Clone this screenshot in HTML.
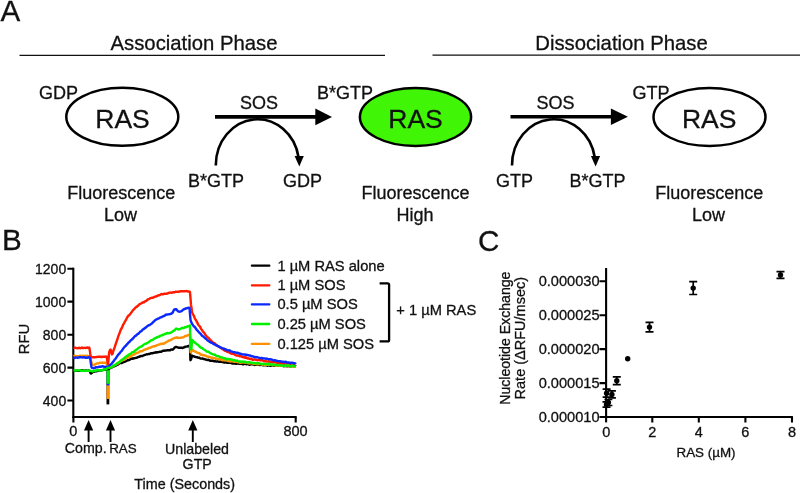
<!DOCTYPE html>
<html><head><meta charset="utf-8"><title>Figure</title>
<style>html,body{margin:0;padding:0;background:#fff}body{width:800px;height:493px;overflow:hidden}svg{display:block}text{stroke:#111;stroke-width:.3px}</style>
</head><body>
<svg width="800" height="493" viewBox="0 0 800 493">
<rect width="800" height="493" fill="#fff"/>
<g font-family="'Liberation Sans', sans-serif" fill="#111">
<g font-size="29.6">
<text x="0.6" y="20.6">A</text>
<text x="2.1" y="250.3">B</text>
<text x="478.1" y="250.6">C</text>
</g>
<g font-size="20.3" text-anchor="middle">
<text x="194" y="50">Association Phase</text>
<text x="621.5" y="50">Dissociation Phase</text>
</g>
<path d="M19.5,55.4H385 M432.5,55.2H800" stroke="#111" stroke-width="1.3" fill="none"/>
<g stroke="#000" stroke-width="2.5">
<ellipse cx="122.3" cy="116.8" rx="56" ry="29" fill="#fff"/>
<ellipse cx="415.5" cy="117" rx="55.6" ry="29" fill="#40f505"/>
<ellipse cx="709.5" cy="117" rx="56" ry="29" fill="#fff"/>
</g>
<g font-size="26.5" text-anchor="middle">
<text x="122.5" y="128">RAS</text>
<text x="415.5" y="128">RAS</text>
<text x="709.2" y="128">RAS</text>
</g>
<g font-size="18">
<text x="38.9" y="98.5">GDP</text>
<text x="317" y="99">B*GTP</text>
<text x="632.5" y="98.6">GTP</text>
<text x="240" y="109.3">SOS</text>
<text x="536.5" y="109.3">SOS</text>
<text x="188" y="187.2">B*GTP</text>
<text x="283" y="187.2">GDP</text>
<text x="496" y="187.4">GTP</text>
<text x="569.5" y="187.4">B*GTP</text>
<g text-anchor="middle">
<text x="121.2" y="199">Fluorescence</text><text x="120.5" y="220.5">Low</text>
<text x="415.5" y="199">Fluorescence</text><text x="415" y="220.5">High</text>
<text x="709.2" y="199">Fluorescence</text><text x="708.5" y="220.5">Low</text>
</g></g>
<g stroke="#000" fill="none">
<path d="M215,116.9H317" stroke-width="3.6"/>
<path d="M510.5,116.8H612" stroke-width="3.6"/>
<path d="M215.8,165.4 A41.7,46 0 0 1 298.6,157.5" stroke-width="2.6"/>
<path d="M512,165.4 A41.7,46 0 0 1 594.8,157.5" stroke-width="2.6"/>
</g>
<g fill="#000">
<path d="M315.3,108.5 L332,116.9 L315.3,125.3Z"/>
<path d="M610.9,108.6 L627.9,116.8 L610.9,125Z"/>
<path d="M294.6,156 L303.8,156 L299.3,166.6Z"/>
<path d="M590.9,156 L600.1,156 L595.6,166.6Z"/>
</g>
<g stroke="#000" stroke-width="2.1" fill="none">
<path d="M73.3,267.7V418"/>
<path d="M72.4,417H296.7"/>
<path d="M67.4,268.7H73.4 M67.4,301.6H73.4 M67.4,334.7H73.4 M67.4,367.6H73.4 M67.4,400.5H73.4"/>
<path d="M73.4,417V422.5 M295.7,417V422.5"/>
</g>
<g font-size="14.5">
<g text-anchor="end">
<text x="66.2" y="273.7" font-size="14">1200</text>
<text x="66.2" y="306.6" font-size="14">1000</text>
<text x="66.2" y="339.7" font-size="14">800</text>
<text x="66.2" y="372.6" font-size="14">600</text>
<text x="66.2" y="405.5" font-size="14">400</text>
</g>
<g text-anchor="middle">
<text x="73.3" y="436.3">0</text>
<text x="295.6" y="436.3">800</text>
<text x="85.7" y="452.9" font-size="14.2">Comp.</text>
<text x="122.9" y="452.9" font-size="13.4">RAS</text>
<text x="197" y="453.6" font-size="14.2">Unlabeled</text>
<text x="197.2" y="469.3" font-size="14.2">GTP</text>
<text x="184.7" y="489.2" font-size="14.35">Time (Seconds)</text>
<text transform="translate(29.2,339) rotate(-90)" font-size="14.8">RFU</text>
</g>
<text x="277.4" y="270.7" font-size="14.7">1 µM RAS alone</text>
<text x="277.4" y="290.4" font-size="14.7">1 µM SOS</text>
<text x="277.4" y="309.4" font-size="14.7">0.5 µM SOS</text>
<text x="277.4" y="329.0" font-size="14.7">0.25 µM SOS</text>
<text x="277.4" y="348.9" font-size="14.7">0.125 µM SOS</text>
<text x="396.3" y="315" font-size="14.7">+ 1 µM RAS</text>
</g>
<path d="M251.9,265.7H269.3" stroke="#000000" stroke-width="2.3" stroke-linecap="round"/>
<path d="M251.9,285.4H269.3" stroke="#ff1a00" stroke-width="2.3" stroke-linecap="round"/>
<path d="M251.9,304.4H269.3" stroke="#0a28ff" stroke-width="2.3" stroke-linecap="round"/>
<path d="M251.9,324H269.3" stroke="#00f000" stroke-width="2.3" stroke-linecap="round"/>
<path d="M251.9,343.9H269.3" stroke="#ff9000" stroke-width="2.3" stroke-linecap="round"/>
<path d="M379.6,283.3H387.6Q389.1,283.3 389.1,284.8V339.9Q389.1,341.4 387.6,341.4H379.6" stroke="#000" stroke-width="2.3" fill="none"/>
<g fill="none" stroke-width="2.8">
<path stroke="#000000" d="M107.9,368V404.4"/>
<path stroke="#ff9000" d="M107.9,364V399"/>
<path stroke="#0a28ff" d="M107.9,366V385.4"/>
<path stroke="#00f000" d="M107.9,367V383.8"/>
</g>
<g fill="none" stroke-width="2.4" stroke-linejoin="round" stroke-linecap="butt">
<path stroke="#000000" d="M73.5,370.7 L74.0,370.6 L74.5,370.5 L75.0,370.6 L75.5,370.8 L76.0,370.9 L76.5,370.8 L77.0,370.7 L77.5,370.8 L78.0,370.9 L78.5,370.7 L79.0,370.7 L79.5,370.8 L80.0,370.7 L80.5,370.7 L81.0,370.4 L81.5,370.4 L82.0,370.2 L82.5,370.4 L83.0,370.4 L83.5,370.7 L84.0,370.7 L84.5,370.8 L85.0,370.5 L85.5,370.4 L86.0,370.4 L86.5,370.7 L87.0,370.6 L87.5,370.6 L88.0,370.4 L88.5,370.5 L89.0,370.7 L89.5,370.7 L90.0,371.7 L90.5,373.1 L90.8,373.5 L91.0,373.5 L91.5,373.1 L92.0,372.8 L92.5,372.2 L93.0,371.9 L93.5,371.8 L94.0,371.7 L94.5,371.6 L95.0,371.3 L95.5,371.3 L96.0,371.4 L96.5,371.3 L97.0,371.2 L97.5,370.9 L98.0,370.7 L98.5,370.8 L99.0,370.8 L99.5,370.6 L100.0,370.6 L100.5,370.6 L101.0,370.5 L101.5,370.4 L102.0,370.1 L102.5,370.1 L103.0,369.9 L103.5,369.8 L104.0,369.6 L104.5,369.8 L105.0,369.9 L105.5,369.7 L106.0,369.4 L106.5,369.2 L107.0,369.0 L107.5,368.9 L107.9,368.7 L108.0,369.1 L108.5,369.0 L109.0,368.8 L109.5,368.4 L110.0,368.1 L110.5,368.1 L110.6,368.1 L111.0,367.9 L111.5,367.5 L112.0,367.3 L112.5,367.1 L113.0,366.7 L113.5,366.4 L114.0,366.1 L114.5,366.1 L114.6,366.2 L115.0,366.0 L115.5,365.7 L116.0,365.4 L116.5,365.3 L117.0,364.9 L117.5,364.8 L118.0,364.3 L118.5,364.1 L119.0,363.6 L119.5,363.3 L120.0,363.0 L120.5,362.9 L121.0,363.0 L121.5,363.1 L122.0,362.9 L122.5,362.6 L123.0,362.2 L123.5,362.1 L124.0,362.0 L124.5,361.7 L125.0,361.6 L125.1,361.6 L125.5,361.4 L126.0,361.1 L126.5,360.8 L127.0,360.6 L127.5,360.4 L128.0,360.1 L128.5,360.2 L129.0,360.0 L129.5,359.9 L130.0,359.5 L130.2,359.4 L130.5,359.1 L131.0,358.9 L131.5,358.8 L132.0,358.6 L132.5,358.7 L133.0,358.3 L133.5,358.5 L134.0,358.2 L134.5,358.3 L135.0,358.1 L135.3,357.9 L135.5,357.9 L136.0,357.9 L136.5,357.9 L137.0,357.6 L137.5,357.3 L138.0,357.0 L138.5,357.0 L139.0,356.8 L139.5,356.7 L140.0,356.3 L140.5,356.2 L141.0,355.9 L141.5,356.0 L142.0,355.9 L142.5,356.0 L143.0,355.7 L143.5,355.5 L144.0,355.2 L144.5,355.0 L145.0,354.9 L145.4,354.8 L145.5,354.8 L146.0,354.5 L146.5,354.3 L147.0,354.4 L147.5,354.4 L148.0,354.2 L148.5,354.0 L149.0,354.1 L149.5,353.9 L150.0,353.8 L150.5,353.4 L151.0,353.3 L151.5,353.3 L152.0,353.2 L152.5,353.3 L153.0,353.0 L153.5,353.0 L154.0,352.8 L154.5,352.8 L155.0,352.5 L155.5,352.3 L155.6,352.5 L156.0,352.5 L156.5,352.6 L157.0,352.3 L157.5,352.2 L158.0,352.1 L158.5,352.1 L159.0,352.0 L159.5,351.9 L160.0,351.7 L160.5,351.8 L161.0,351.8 L161.5,351.6 L162.0,351.3 L162.5,350.9 L163.0,350.8 L163.5,350.8 L164.0,350.8 L164.5,350.6 L165.0,350.5 L165.5,350.6 L166.0,350.6 L166.5,350.4 L167.0,350.4 L167.5,350.1 L168.0,350.2 L168.5,350.1 L169.0,350.3 L169.5,350.3 L170.0,350.4 L170.1,350.2 L170.5,349.7 L171.0,349.6 L171.5,349.5 L172.0,349.7 L172.5,349.6 L173.0,349.5 L173.2,349.2 L173.5,348.9 L174.0,348.4 L174.5,347.8 L175.0,347.2 L175.2,347.1 L175.5,346.9 L176.0,346.9 L176.5,347.0 L177.0,347.1 L177.5,347.3 L178.0,347.5 L178.5,347.8 L179.0,347.7 L179.5,347.7 L180.0,347.6 L180.3,347.6 L180.5,347.7 L181.0,347.7 L181.5,347.8 L182.0,347.7 L182.5,348.0 L183.0,347.7 L183.5,347.6 L184.0,347.2 L184.5,347.3 L185.0,346.8 L185.5,346.7 L186.0,346.6 L186.5,346.6 L187.0,346.6 L187.5,346.3 L188.0,346.4 L188.4,346.3 L188.5,346.1 L189.0,345.8 L189.5,345.5 L189.9,345.3 L190.0,346.8 L190.4,359.8 L190.5,360.2 L191.0,359.3 L191.5,357.6 L192.0,355.6 L192.5,355.9 L193.0,356.2 L193.5,356.2 L194.0,356.4 L194.5,356.6 L195.0,356.9 L195.5,357.0 L196.0,357.0 L196.5,357.1 L197.0,357.2 L197.5,357.6 L198.0,357.5 L198.5,357.7 L199.0,357.7 L199.5,357.8 L200.0,358.2 L200.5,358.5 L200.6,358.6 L201.0,358.6 L201.5,358.6 L202.0,358.5 L202.5,358.5 L203.0,358.6 L203.5,359.0 L204.0,359.0 L204.5,359.1 L205.0,359.2 L205.5,359.5 L206.0,359.7 L206.5,359.8 L207.0,360.0 L207.5,360.0 L208.0,360.0 L208.5,359.7 L209.0,360.1 L209.5,360.3 L210.0,360.7 L210.5,360.7 L211.0,360.7 L211.5,360.7 L212.0,360.7 L212.5,360.7 L213.0,360.8 L213.5,361.1 L214.0,361.2 L214.5,361.3 L215.0,361.1 L215.1,361.0 L215.5,361.3 L216.0,361.5 L216.5,361.6 L217.0,361.5 L217.5,361.3 L218.0,361.4 L218.5,361.6 L219.0,361.8 L219.5,361.8 L220.0,361.7 L220.5,361.9 L221.0,361.8 L221.5,361.8 L222.0,361.8 L222.5,362.1 L223.0,362.1 L223.5,362.3 L224.0,362.5 L224.5,362.6 L225.0,362.5 L225.3,362.4 L225.5,362.4 L226.0,362.4 L226.5,362.5 L227.0,362.8 L227.5,362.9 L228.0,362.9 L228.5,362.6 L229.0,362.7 L229.5,362.6 L230.0,362.7 L230.5,362.8 L231.0,362.9 L231.5,363.2 L232.0,363.3 L232.5,363.5 L233.0,363.5 L233.5,363.6 L234.0,363.6 L234.5,363.5 L235.0,363.1 L235.4,363.2 L235.5,363.4 L236.0,363.7 L236.5,363.7 L237.0,363.4 L237.5,363.3 L238.0,363.5 L238.5,363.6 L239.0,363.7 L239.5,363.8 L240.0,363.8 L240.5,363.8 L241.0,363.8 L241.5,363.9 L242.0,364.0 L242.5,364.2 L243.0,364.3 L243.5,364.3 L244.0,363.9 L244.5,363.9 L245.0,363.7 L245.5,363.8 L245.6,363.8 L246.0,364.2 L246.5,364.4 L247.0,364.1 L247.5,364.0 L248.0,364.0 L248.5,364.3 L249.0,364.6 L249.5,364.7 L250.0,364.6 L250.5,364.2 L251.0,364.2 L251.5,364.3 L252.0,364.4 L252.5,364.4 L253.0,364.3 L253.5,364.6 L254.0,364.8 L254.5,365.0 L255.0,364.9 L255.5,364.9 L256.0,364.7 L256.5,364.8 L257.0,364.7 L257.5,364.6 L258.0,364.5 L258.5,364.6 L259.0,364.8 L259.5,365.0 L260.0,365.1 L260.5,364.9 L261.0,364.8 L261.5,364.8 L262.0,365.0 L262.5,365.1 L263.0,365.2 L263.5,365.2 L264.0,365.2 L264.5,364.9 L265.0,365.0 L265.5,365.3 L266.0,365.2 L266.5,365.3 L267.0,365.3 L267.5,365.7 L268.0,365.5 L268.5,365.4 L269.0,365.2 L269.5,365.5 L270.0,365.6 L270.5,365.9 L271.0,365.6 L271.5,365.6 L272.0,365.3 L272.5,365.3 L273.0,365.4 L273.5,365.5 L274.0,365.7 L274.5,365.6 L275.0,365.7 L275.5,365.5 L276.0,365.5 L276.5,365.6 L277.0,365.6 L277.5,365.6 L278.0,365.6 L278.5,365.5 L279.0,365.5 L279.5,365.6 L280.0,365.8 L280.5,365.8 L281.0,365.8 L281.5,365.7 L282.0,365.8 L282.5,365.9 L283.0,365.9 L283.5,366.2 L284.0,366.0 L284.5,366.2 L285.0,366.0 L285.5,366.0 L286.0,366.1 L286.5,366.1 L287.0,366.3 L287.5,366.2 L288.0,366.1 L288.5,366.1 L289.0,366.1 L289.5,366.4 L290.0,366.3 L290.5,366.3 L291.0,366.0 L291.5,366.2 L292.0,366.1 L292.5,366.1 L293.0,366.0 L293.5,366.3 L294.0,366.4 L294.5,366.3 L295.0,366.1 L295.5,366.1 L295.6,366.3"/>
<path stroke="#ff9000" d="M73.5,356.1 L74.0,355.9 L74.5,355.9 L75.0,355.6 L75.5,356.0 L76.0,356.1 L76.5,356.3 L77.0,356.1 L77.5,356.1 L78.0,356.1 L78.5,356.3 L79.0,356.2 L79.5,356.0 L80.0,355.7 L80.5,355.6 L81.0,355.9 L81.5,356.1 L82.0,356.2 L82.5,355.9 L83.0,355.8 L83.5,356.1 L84.0,355.9 L84.5,356.0 L85.0,355.7 L85.5,356.2 L86.0,356.0 L86.5,356.1 L87.0,355.8 L87.5,355.8 L88.0,356.0 L88.5,356.2 L89.0,356.3 L89.5,356.0 L89.8,355.7 L90.0,355.9 L90.5,357.5 L91.0,360.2 L91.5,362.7 L92.0,364.4 L92.3,364.7 L92.5,364.8 L93.0,365.0 L93.5,365.1 L94.0,365.0 L94.5,364.7 L95.0,364.3 L95.5,364.0 L96.0,363.9 L96.5,363.7 L97.0,363.4 L97.5,363.4 L98.0,363.3 L98.5,363.3 L99.0,363.1 L99.5,362.9 L100.0,362.7 L100.4,362.7 L100.5,362.7 L101.0,362.8 L101.5,362.9 L102.0,362.8 L102.5,362.8 L103.0,362.6 L103.5,362.7 L104.0,362.7 L104.5,362.6 L105.0,362.7 L105.5,362.8 L106.0,363.0 L106.5,363.4 L107.0,364.3 L107.5,365.3 L107.9,365.8 L108.0,365.9 L108.5,366.4 L109.0,366.6 L109.5,366.9 L110.0,367.1 L110.5,367.3 L110.6,367.2 L111.0,367.3 L111.5,366.9 L112.0,366.8 L112.5,366.5 L113.0,366.4 L113.5,366.0 L114.0,365.6 L114.5,365.2 L114.6,365.2 L115.0,365.1 L115.5,364.8 L116.0,364.3 L116.5,364.0 L117.0,363.8 L117.5,363.8 L118.0,363.5 L118.5,362.9 L119.0,362.6 L119.5,362.2 L120.0,361.8 L120.5,361.4 L121.0,360.9 L121.5,360.8 L122.0,360.3 L122.5,360.3 L123.0,360.1 L123.5,359.9 L124.0,359.6 L124.5,359.6 L125.0,359.2 L125.1,358.9 L125.5,358.4 L126.0,358.1 L126.5,357.9 L127.0,357.9 L127.5,357.7 L128.0,357.6 L128.5,357.2 L129.0,357.0 L129.5,356.7 L130.0,356.6 L130.2,356.7 L130.5,356.5 L131.0,356.1 L131.5,355.8 L132.0,355.4 L132.5,355.0 L133.0,354.8 L133.5,354.6 L134.0,354.6 L134.5,354.1 L135.0,353.8 L135.3,353.6 L135.5,353.6 L136.0,353.1 L136.5,352.9 L137.0,352.9 L137.5,353.0 L138.0,352.7 L138.5,352.3 L139.0,352.1 L139.5,351.7 L140.0,351.4 L140.5,351.2 L141.0,351.3 L141.5,351.3 L142.0,351.2 L142.5,350.9 L143.0,350.5 L143.5,350.2 L144.0,349.9 L144.5,349.7 L145.0,349.5 L145.4,349.6 L145.5,349.6 L146.0,349.3 L146.5,348.9 L147.0,348.9 L147.5,348.7 L148.0,348.7 L148.5,348.2 L149.0,348.0 L149.5,347.7 L150.0,347.7 L150.5,347.7 L151.0,347.4 L151.5,347.0 L152.0,346.7 L152.5,346.7 L153.0,346.5 L153.5,346.4 L154.0,346.3 L154.5,346.4 L155.0,346.1 L155.5,346.0 L155.6,345.8 L156.0,345.9 L156.5,345.5 L157.0,345.2 L157.5,345.0 L158.0,344.8 L158.5,344.8 L159.0,344.7 L159.5,344.5 L160.0,344.2 L160.5,344.0 L161.0,344.1 L161.5,343.8 L162.0,343.7 L162.5,343.5 L163.0,343.7 L163.5,343.9 L164.0,343.6 L164.5,343.2 L165.0,342.9 L165.5,342.7 L166.0,342.3 L166.5,341.9 L167.0,341.8 L167.5,341.5 L168.0,341.1 L168.5,340.6 L169.0,340.5 L169.5,340.4 L170.0,340.3 L170.1,340.2 L170.5,340.2 L171.0,339.9 L171.5,339.7 L172.0,339.2 L172.5,339.0 L173.0,338.5 L173.5,338.5 L174.0,338.3 L174.5,338.1 L175.0,337.8 L175.5,337.6 L176.0,337.7 L176.2,337.6 L176.5,337.5 L177.0,337.3 L177.5,337.8 L178.0,338.0 L178.5,338.0 L179.0,337.8 L179.5,337.9 L180.0,337.9 L180.3,337.8 L180.5,337.7 L181.0,337.7 L181.5,337.7 L182.0,337.4 L182.5,337.4 L183.0,337.4 L183.5,337.3 L184.0,337.0 L184.5,336.4 L185.0,336.2 L185.5,335.9 L186.0,336.0 L186.5,335.8 L187.0,335.6 L187.5,335.2 L188.0,335.1 L188.4,335.0 L188.5,335.1 L189.0,334.9 L189.5,334.9 L189.9,334.6 L190.0,335.8 L190.5,351.0 L190.6,352.3 L191.0,352.2 L191.5,351.6 L192.0,350.1 L192.5,350.1 L193.0,350.2 L193.5,350.6 L194.0,351.0 L194.5,351.1 L195.0,351.5 L195.5,351.5 L196.0,352.0 L196.5,352.2 L197.0,352.6 L197.5,352.8 L198.0,352.9 L198.5,353.1 L199.0,353.1 L199.5,353.4 L200.0,353.9 L200.5,354.5 L200.6,354.7 L201.0,354.7 L201.5,354.6 L202.0,354.8 L202.5,354.9 L203.0,355.2 L203.5,355.1 L204.0,355.3 L204.5,355.4 L205.0,355.6 L205.5,355.7 L206.0,355.8 L206.5,356.3 L207.0,356.5 L207.5,356.7 L208.0,356.6 L208.5,356.9 L209.0,356.9 L209.5,357.0 L210.0,357.1 L210.5,357.4 L211.0,357.6 L211.5,357.8 L212.0,357.8 L212.5,358.0 L213.0,357.8 L213.5,358.2 L214.0,358.1 L214.5,358.2 L215.0,358.1 L215.1,358.4 L215.5,358.6 L216.0,359.0 L216.5,358.8 L217.0,358.9 L217.5,358.9 L218.0,359.1 L218.5,359.1 L219.0,359.2 L219.5,359.1 L220.0,359.1 L220.5,359.1 L221.0,359.4 L221.5,359.6 L222.0,359.9 L222.5,360.2 L223.0,360.2 L223.5,360.1 L224.0,359.9 L224.5,359.9 L225.0,360.0 L225.3,360.2 L225.5,360.3 L226.0,360.3 L226.5,360.4 L227.0,360.5 L227.5,360.9 L228.0,360.9 L228.5,361.1 L229.0,361.1 L229.5,361.3 L230.0,361.3 L230.5,361.5 L231.0,361.4 L231.5,361.3 L232.0,361.3 L232.5,361.3 L233.0,361.5 L233.5,361.5 L234.0,361.7 L234.5,361.8 L235.0,361.9 L235.4,361.5 L235.5,361.5 L236.0,361.7 L236.5,361.9 L237.0,362.0 L237.5,362.0 L238.0,362.2 L238.5,362.1 L239.0,362.3 L239.5,362.4 L240.0,362.8 L240.5,362.7 L241.0,362.6 L241.5,362.3 L242.0,362.5 L242.5,362.5 L243.0,362.6 L243.5,362.6 L244.0,362.6 L244.5,362.6 L245.0,362.6 L245.5,362.5 L245.6,362.5 L246.0,362.5 L246.5,362.9 L247.0,363.0 L247.5,362.9 L248.0,362.9 L248.5,363.1 L249.0,363.4 L249.5,363.5 L250.0,363.3 L250.5,363.4 L251.0,363.4 L251.5,363.4 L252.0,363.3 L252.5,363.5 L253.0,363.7 L253.5,364.0 L254.0,363.8 L254.5,364.0 L255.0,363.8 L255.5,363.9 L256.0,364.1 L256.5,364.3 L257.0,364.3 L257.5,364.0 L258.0,364.0 L258.5,364.3 L259.0,364.2 L259.5,364.0 L260.0,363.9 L260.5,364.0 L261.0,364.3 L261.5,364.5 L262.0,364.5 L262.5,364.7 L263.0,364.4 L263.5,364.5 L264.0,364.7 L264.5,365.0 L265.0,364.9 L265.5,364.7 L266.0,364.9 L266.5,364.8 L267.0,364.8 L267.5,364.7 L268.0,364.9 L268.5,364.9 L269.0,364.9 L269.5,364.8 L270.0,364.9 L270.3,364.9 L270.5,364.8 L271.0,364.8 L271.5,365.0 L272.0,365.0 L272.5,365.0 L273.0,365.0 L273.5,365.1 L274.0,365.1 L274.5,365.0 L275.0,365.3 L275.5,365.6 L276.0,365.9 L276.5,365.8 L277.0,365.7 L277.5,365.5 L278.0,365.5 L278.5,365.7 L279.0,365.5 L279.5,365.7 L280.0,365.5 L280.5,365.9 L281.0,365.8 L281.5,365.8 L282.0,365.7 L282.5,365.8 L283.0,365.9 L283.5,365.9 L284.0,365.8 L284.5,365.6 L285.0,365.7 L285.5,365.8 L286.0,366.1 L286.5,366.1 L287.0,366.1 L287.5,366.1 L288.0,366.0 L288.5,365.9 L289.0,366.1 L289.5,366.1 L290.0,366.3 L290.5,366.1 L291.0,366.2 L291.5,366.2 L292.0,366.3 L292.5,366.3 L293.0,366.1 L293.5,366.3 L294.0,366.6 L294.5,366.6 L295.0,366.6 L295.5,366.6 L295.6,366.5"/>
<path stroke="#ff1a00" d="M73.5,347.7 L74.0,347.8 L74.5,347.7 L75.0,347.7 L75.5,347.8 L76.0,347.9 L76.5,348.1 L77.0,348.1 L77.5,348.1 L78.0,348.3 L78.5,348.0 L79.0,348.1 L79.5,347.8 L80.0,348.1 L80.5,348.2 L81.0,348.0 L81.5,347.7 L82.0,347.5 L82.5,347.9 L83.0,348.1 L83.5,348.0 L84.0,347.9 L84.5,347.9 L85.0,347.9 L85.5,348.0 L86.0,347.6 L86.5,347.7 L87.0,347.5 L87.5,347.9 L88.0,347.8 L88.5,347.8 L89.0,347.7 L89.2,347.6 L89.5,348.5 L90.0,351.9 L90.5,355.6 L90.8,356.7 L91.0,357.0 L91.5,357.1 L92.0,357.2 L92.5,357.2 L93.0,357.2 L93.5,357.2 L94.0,357.4 L94.5,357.3 L95.0,357.3 L95.5,357.1 L96.0,357.1 L96.5,357.0 L97.0,357.0 L97.5,356.9 L98.0,356.9 L98.5,356.6 L99.0,356.7 L99.5,356.6 L100.0,356.6 L100.5,356.8 L101.0,356.8 L101.5,357.1 L102.0,357.0 L102.5,356.9 L103.0,356.7 L103.5,356.6 L104.0,356.7 L104.5,356.8 L105.0,356.8 L105.5,356.6 L106.0,356.7 L106.5,356.5 L107.0,358.6 L107.5,361.9 L108.0,363.9 L108.5,360.1 L109.0,354.0 L109.3,351.8 L109.5,351.2 L110.0,350.1 L110.5,349.6 L110.6,349.7 L111.0,350.8 L111.5,352.8 L112.0,354.4 L112.1,354.1 L112.5,353.8 L113.0,352.1 L113.5,350.5 L113.6,350.2 L114.0,349.3 L114.5,347.9 L115.0,346.4 L115.5,344.6 L116.0,343.1 L116.5,341.6 L116.7,341.2 L117.0,340.3 L117.5,339.0 L118.0,337.2 L118.5,335.7 L118.8,334.8 L119.0,334.5 L119.5,333.2 L120.0,331.8 L120.5,330.4 L121.0,329.3 L121.5,328.5 L122.0,327.7 L122.5,326.5 L122.8,325.5 L123.0,324.9 L123.5,324.2 L124.0,323.3 L124.5,322.3 L125.0,321.4 L125.5,320.7 L126.0,319.9 L126.5,318.8 L127.0,317.8 L127.5,317.0 L128.0,316.1 L128.5,315.7 L128.9,315.2 L129.0,315.3 L129.5,314.8 L130.0,314.4 L130.5,313.6 L131.0,312.9 L131.5,312.3 L132.0,311.7 L132.5,310.9 L133.0,310.2 L133.5,309.6 L134.0,309.4 L134.5,308.6 L135.0,308.1 L135.5,307.5 L136.0,307.2 L136.5,306.9 L137.0,306.6 L137.5,306.1 L138.0,305.8 L138.5,305.2 L139.0,304.8 L139.5,304.2 L140.0,304.1 L140.5,303.8 L141.0,303.5 L141.5,303.1 L142.0,302.8 L142.5,302.7 L143.0,302.4 L143.5,302.3 L144.0,302.2 L144.5,301.8 L145.0,301.3 L145.5,301.1 L146.0,301.0 L146.5,300.8 L147.0,300.2 L147.5,299.7 L148.0,299.4 L148.5,299.1 L148.7,299.2 L149.0,299.0 L149.5,298.8 L150.0,298.4 L150.5,298.2 L151.0,298.0 L151.5,297.9 L152.0,297.8 L152.5,297.8 L153.0,297.7 L153.5,297.4 L154.0,297.2 L154.5,296.9 L155.0,296.7 L155.1,296.7 L155.5,296.5 L156.0,296.5 L156.5,296.2 L157.0,296.1 L157.5,295.7 L158.0,295.5 L158.5,295.4 L159.0,295.2 L159.5,295.3 L160.0,295.0 L160.5,294.6 L161.0,294.3 L161.5,294.0 L162.0,294.1 L162.5,294.2 L163.0,294.3 L163.5,294.1 L164.0,293.7 L164.5,293.7 L165.0,293.8 L165.3,293.8 L165.5,293.7 L166.0,293.9 L166.5,293.9 L167.0,293.7 L167.5,293.4 L168.0,293.2 L168.5,293.1 L169.0,292.8 L169.5,292.7 L170.0,292.6 L170.5,292.6 L171.0,292.5 L171.5,292.8 L172.0,292.7 L172.5,292.6 L173.0,292.2 L173.5,292.3 L174.0,292.4 L174.5,292.3 L175.0,292.1 L175.4,291.8 L175.5,291.7 L176.0,291.8 L176.5,291.9 L177.0,291.9 L177.5,291.7 L178.0,291.7 L178.5,291.8 L179.0,291.7 L179.5,291.6 L180.0,291.3 L180.5,291.2 L181.0,291.4 L181.5,291.3 L182.0,291.3 L182.5,291.1 L183.0,291.3 L183.5,291.2 L184.0,291.2 L184.5,291.2 L185.0,291.3 L185.5,291.1 L185.6,291.1 L186.0,291.0 L186.5,291.1 L187.0,291.2 L187.5,291.4 L188.0,291.5 L188.5,291.5 L189.0,291.5 L189.5,291.6 L189.8,291.8 L190.0,292.6 L190.5,298.4 L191.0,304.7 L191.1,305.4 L191.5,307.5 L192.0,312.2 L192.5,313.2 L193.0,314.3 L193.5,315.2 L193.7,315.5 L194.0,316.2 L194.5,317.5 L195.0,318.7 L195.3,319.3 L195.5,319.5 L196.0,320.2 L196.5,321.2 L197.0,322.1 L197.5,323.1 L198.0,324.2 L198.5,325.0 L199.0,325.6 L199.5,326.1 L200.0,326.7 L200.5,327.5 L200.6,327.9 L201.0,328.7 L201.5,329.4 L202.0,330.0 L202.5,330.8 L203.0,331.6 L203.5,332.1 L204.0,332.6 L204.5,333.3 L205.0,334.1 L205.5,334.9 L206.0,335.6 L206.5,336.2 L207.0,336.8 L207.5,337.3 L208.0,337.5 L208.5,337.9 L209.0,338.4 L209.5,339.0 L210.0,339.6 L210.1,339.7 L210.5,340.0 L211.0,340.5 L211.5,341.1 L212.0,341.7 L212.5,342.1 L213.0,342.6 L213.5,343.0 L214.0,343.0 L214.5,343.2 L215.0,343.5 L215.1,343.8 L215.5,344.2 L216.0,344.8 L216.5,345.2 L217.0,345.4 L217.5,345.9 L218.0,346.2 L218.5,346.6 L219.0,346.7 L219.5,347.1 L220.0,347.5 L220.2,347.7 L220.5,347.8 L221.0,348.1 L221.5,348.3 L222.0,348.7 L222.5,349.1 L223.0,349.4 L223.5,349.5 L224.0,350.2 L224.5,350.4 L225.0,350.8 L225.3,350.6 L225.5,350.8 L226.0,351.0 L226.5,351.3 L227.0,351.7 L227.5,351.9 L228.0,352.0 L228.5,352.0 L229.0,352.2 L229.5,352.6 L230.0,353.0 L230.5,353.2 L231.0,353.5 L231.5,353.7 L232.0,353.9 L232.5,353.8 L233.0,353.6 L233.5,353.6 L234.0,354.2 L234.5,354.4 L235.0,354.9 L235.4,354.9 L235.5,355.2 L236.0,355.4 L236.5,355.5 L237.0,355.4 L237.5,355.5 L238.0,355.6 L238.5,355.8 L239.0,355.9 L239.5,356.2 L240.0,356.2 L240.5,356.4 L241.0,356.2 L241.5,356.6 L242.0,356.8 L242.5,357.0 L243.0,357.2 L243.5,357.1 L244.0,357.3 L244.5,357.3 L245.0,357.7 L245.5,357.7 L245.6,357.5 L246.0,357.4 L246.5,357.5 L247.0,358.1 L247.5,358.4 L248.0,358.5 L248.5,358.3 L249.0,358.5 L249.5,358.8 L250.0,359.1 L250.5,359.0 L251.0,358.7 L251.5,358.9 L252.0,359.3 L252.5,359.7 L253.0,359.8 L253.5,359.6 L254.0,359.5 L254.5,359.6 L255.0,359.5 L255.5,359.7 L256.0,359.7 L256.5,360.0 L257.0,360.2 L257.5,360.2 L258.0,360.1 L258.5,360.0 L259.0,360.1 L259.5,360.1 L260.0,360.2 L260.5,360.1 L261.0,360.2 L261.5,360.3 L262.0,360.3 L262.5,360.3 L263.0,360.6 L263.5,360.8 L264.0,361.3 L264.5,361.2 L265.0,361.2 L265.5,361.1 L266.0,361.3 L266.5,361.4 L267.0,361.6 L267.5,361.6 L268.0,361.6 L268.5,361.3 L269.0,361.4 L269.5,361.7 L270.0,361.7 L270.3,361.6 L270.5,361.7 L271.0,361.9 L271.5,362.0 L272.0,362.1 L272.5,362.2 L273.0,362.1 L273.5,362.0 L274.0,362.1 L274.5,362.3 L275.0,362.1 L275.5,362.1 L276.0,362.3 L276.5,362.8 L277.0,362.6 L277.5,362.9 L278.0,362.6 L278.5,363.1 L279.0,362.9 L279.5,363.2 L280.0,363.2 L280.5,363.0 L281.0,363.0 L281.5,362.9 L282.0,362.8 L282.5,363.1 L283.0,363.3 L283.5,363.9 L284.0,363.5 L284.5,363.6 L285.0,363.7 L285.5,364.0 L286.0,363.9 L286.5,363.6 L287.0,363.4 L287.5,363.2 L288.0,363.2 L288.5,363.3 L289.0,363.5 L289.5,363.7 L290.0,363.7 L290.5,364.1 L290.6,364.3 L291.0,364.3 L291.5,364.3 L292.0,364.1 L292.5,364.1 L293.0,364.1 L293.5,364.1 L294.0,364.2 L294.5,363.9 L295.0,364.1 L295.5,364.4 L295.6,364.5"/>
<path stroke="#0a28ff" d="M73.5,357.4 L74.0,357.8 L74.5,358.0 L75.0,357.7 L75.5,357.6 L76.0,357.5 L76.5,357.6 L77.0,357.6 L77.5,357.7 L78.0,357.6 L78.5,357.5 L79.0,357.5 L79.5,357.2 L80.0,357.2 L80.5,357.1 L81.0,357.3 L81.5,357.2 L82.0,357.4 L82.5,357.5 L83.0,357.4 L83.5,357.3 L84.0,357.1 L84.5,357.4 L85.0,357.7 L85.5,357.9 L86.0,357.8 L86.5,357.7 L87.0,357.5 L87.5,357.7 L88.0,357.4 L88.5,357.3 L89.0,357.4 L89.5,357.7 L89.8,357.9 L90.0,357.9 L90.5,360.3 L91.0,364.3 L91.5,367.2 L91.8,367.8 L92.0,367.8 L92.5,368.0 L93.0,368.2 L93.5,368.1 L94.0,368.2 L94.5,367.9 L95.0,367.9 L95.5,367.3 L96.0,367.1 L96.5,367.2 L97.0,367.2 L97.5,367.3 L98.0,367.1 L98.5,367.0 L99.0,366.8 L99.5,366.7 L100.0,366.6 L100.5,366.7 L101.0,366.7 L101.5,366.6 L102.0,366.4 L102.5,366.3 L103.0,366.3 L103.5,366.5 L104.0,366.8 L104.5,367.0 L105.0,367.0 L105.5,366.8 L106.0,366.7 L106.5,366.7 L107.0,366.6 L107.5,366.7 L108.0,366.7 L108.5,366.6 L109.0,366.1 L109.5,365.6 L110.0,364.8 L110.5,364.5 L110.6,364.5 L111.0,364.4 L111.5,363.8 L112.0,363.3 L112.5,362.4 L113.0,361.8 L113.5,361.3 L114.0,360.5 L114.5,359.9 L114.8,359.4 L115.0,359.3 L115.5,358.7 L116.0,358.0 L116.5,357.2 L117.0,356.6 L117.5,355.7 L118.0,355.1 L118.5,354.3 L119.0,353.8 L119.5,353.3 L120.0,352.8 L120.5,352.0 L121.0,351.5 L121.5,351.0 L122.0,350.6 L122.5,349.7 L123.0,348.9 L123.5,348.2 L124.0,347.7 L124.5,346.9 L125.0,346.3 L125.1,346.5 L125.5,346.1 L126.0,345.6 L126.5,344.7 L127.0,344.4 L127.5,343.9 L128.0,343.2 L128.5,342.7 L129.0,342.2 L129.5,341.8 L130.0,341.3 L130.5,340.6 L131.0,340.1 L131.5,339.9 L132.0,339.3 L132.5,339.0 L133.0,338.2 L133.5,337.9 L134.0,337.3 L134.5,336.7 L135.0,336.1 L135.3,335.8 L135.5,335.8 L136.0,335.6 L136.5,335.1 L137.0,334.6 L137.5,334.1 L138.0,333.8 L138.5,333.7 L139.0,333.1 L139.5,332.5 L140.0,331.9 L140.5,331.6 L141.0,331.4 L141.5,331.0 L142.0,330.4 L142.5,329.9 L143.0,329.4 L143.5,329.2 L144.0,328.9 L144.5,328.4 L145.0,327.8 L145.2,327.7 L145.5,327.7 L146.0,327.4 L146.5,326.9 L147.0,326.5 L147.5,326.0 L148.0,325.6 L148.5,325.4 L149.0,325.2 L149.5,325.1 L150.0,324.8 L150.5,324.5 L151.0,324.0 L151.5,323.7 L152.0,323.3 L152.5,322.8 L153.0,322.2 L153.5,321.8 L154.0,321.3 L154.5,320.9 L155.0,320.4 L155.1,320.3 L155.5,320.0 L156.0,319.7 L156.5,319.5 L157.0,319.1 L157.5,318.8 L158.0,318.6 L158.5,318.5 L159.0,318.1 L159.5,318.0 L160.0,317.6 L160.5,317.4 L161.0,317.3 L161.5,317.1 L162.0,316.8 L162.5,316.6 L163.0,316.4 L163.5,316.2 L164.0,315.9 L164.5,315.8 L165.0,315.4 L165.3,315.2 L165.5,314.8 L166.0,314.8 L166.5,314.6 L167.0,314.5 L167.5,314.5 L168.0,314.4 L168.5,314.4 L169.0,314.3 L169.5,314.2 L170.0,314.0 L170.5,314.0 L171.0,313.9 L171.5,313.6 L172.0,313.1 L172.4,312.7 L172.5,312.7 L173.0,312.0 L173.5,310.8 L174.0,309.8 L174.4,309.5 L174.5,309.5 L175.0,309.6 L175.5,309.3 L176.0,309.3 L176.4,309.2 L176.5,309.6 L177.0,310.1 L177.5,310.8 L178.0,311.1 L178.5,311.5 L179.0,311.6 L179.5,311.6 L180.0,311.7 L180.5,311.5 L181.0,311.4 L181.5,311.0 L182.0,310.8 L182.5,310.2 L183.0,309.9 L183.5,309.5 L184.0,309.4 L184.5,308.9 L185.0,308.8 L185.5,308.6 L185.6,308.8 L186.0,308.5 L186.5,308.4 L187.0,308.3 L187.5,308.0 L188.0,307.8 L188.5,307.7 L189.0,307.8 L189.4,307.8 L189.5,308.0 L190.0,313.9 L190.5,319.8 L191.0,321.6 L191.5,322.6 L192.0,323.7 L192.5,324.4 L193.0,325.2 L193.5,325.8 L194.0,326.3 L194.5,326.8 L195.0,327.2 L195.5,328.0 L196.0,328.8 L196.5,329.5 L197.0,330.2 L197.5,330.5 L198.0,331.2 L198.5,331.6 L199.0,332.3 L199.5,332.8 L200.0,333.3 L200.5,333.7 L200.6,333.8 L201.0,334.3 L201.5,335.0 L202.0,335.7 L202.5,336.0 L203.0,336.3 L203.5,336.6 L204.0,337.2 L204.5,337.5 L205.0,338.1 L205.5,338.4 L206.0,339.0 L206.5,339.2 L207.0,339.8 L207.5,340.3 L208.0,340.7 L208.5,341.0 L209.0,341.4 L209.5,341.8 L210.0,342.1 L210.1,342.2 L210.5,342.3 L211.0,342.6 L211.5,342.7 L212.0,342.9 L212.5,343.3 L213.0,343.6 L213.5,343.9 L214.0,344.2 L214.5,344.6 L215.0,344.6 L215.1,344.6 L215.5,344.8 L216.0,345.2 L216.5,345.5 L217.0,345.4 L217.5,345.8 L218.0,346.0 L218.5,346.6 L219.0,346.5 L219.5,346.9 L220.0,347.0 L220.5,347.5 L221.0,347.6 L221.5,347.7 L222.0,348.1 L222.5,348.3 L223.0,348.5 L223.5,348.4 L224.0,348.6 L224.5,349.0 L225.0,349.4 L225.3,349.5 L225.5,349.3 L226.0,349.4 L226.5,349.8 L227.0,350.2 L227.5,350.4 L228.0,350.4 L228.5,350.4 L229.0,350.3 L229.5,350.4 L230.0,350.7 L230.5,350.9 L231.0,351.5 L231.5,351.5 L232.0,351.7 L232.5,351.7 L233.0,352.0 L233.5,352.3 L234.0,352.2 L234.5,352.2 L235.0,352.4 L235.4,352.6 L235.5,352.5 L236.0,352.6 L236.5,352.8 L237.0,352.9 L237.5,352.8 L238.0,352.9 L238.5,353.2 L239.0,353.3 L239.5,353.7 L240.0,353.9 L240.5,353.8 L241.0,353.8 L241.5,354.0 L242.0,354.3 L242.5,354.5 L243.0,354.5 L243.5,354.4 L244.0,354.5 L244.5,354.6 L245.0,354.5 L245.5,354.6 L245.6,354.7 L246.0,355.0 L246.5,354.8 L247.0,354.9 L247.5,354.9 L248.0,355.1 L248.5,355.4 L249.0,355.4 L249.5,355.6 L250.0,355.5 L250.5,355.8 L251.0,355.9 L251.5,356.1 L252.0,356.1 L252.5,356.4 L253.0,356.4 L253.5,356.7 L254.0,356.6 L254.5,357.0 L255.0,357.0 L255.5,357.2 L256.0,357.0 L256.5,357.3 L257.0,357.2 L257.5,357.3 L258.0,357.5 L258.5,357.7 L259.0,357.9 L259.5,358.0 L260.0,358.1 L260.5,358.1 L261.0,358.0 L261.5,357.9 L262.0,358.2 L262.5,358.3 L263.0,358.5 L263.5,358.4 L264.0,358.3 L264.5,358.5 L265.0,358.6 L265.5,358.7 L266.0,358.5 L266.5,358.7 L267.0,358.6 L267.5,358.9 L268.0,359.1 L268.5,359.1 L269.0,359.3 L269.5,359.3 L270.0,359.5 L270.3,359.3 L270.5,359.2 L271.0,359.4 L271.5,359.5 L272.0,359.8 L272.5,359.9 L273.0,360.2 L273.5,360.5 L274.0,360.4 L274.5,360.3 L275.0,360.3 L275.5,360.4 L276.0,360.8 L276.5,360.7 L277.0,360.9 L277.5,361.0 L278.0,361.1 L278.5,361.1 L279.0,361.2 L279.5,361.2 L280.0,361.2 L280.5,361.4 L281.0,361.4 L281.5,361.6 L282.0,361.6 L282.5,361.8 L283.0,361.7 L283.5,361.8 L284.0,362.0 L284.5,362.0 L285.0,362.0 L285.5,361.7 L286.0,361.8 L286.5,362.3 L287.0,362.5 L287.5,362.7 L288.0,362.4 L288.5,362.5 L289.0,362.5 L289.5,362.9 L290.0,362.9 L290.5,363.0 L290.6,362.8 L291.0,362.8 L291.5,362.8 L292.0,362.9 L292.5,362.8 L293.0,362.9 L293.5,363.1 L294.0,363.4 L294.5,363.2 L295.0,363.4 L295.5,363.6 L295.6,363.9"/>
<path stroke="#00f000" d="M73.5,370.6 L74.0,370.5 L74.5,370.5 L75.0,370.6 L75.5,370.6 L76.0,370.6 L76.5,370.5 L77.0,370.5 L77.5,370.4 L78.0,370.4 L78.5,370.3 L79.0,370.4 L79.5,370.4 L80.0,370.3 L80.5,370.6 L81.0,370.8 L81.5,370.9 L82.0,370.7 L82.5,370.8 L83.0,370.8 L83.5,370.8 L84.0,370.6 L84.5,370.6 L85.0,370.7 L85.5,370.7 L86.0,370.9 L86.5,370.6 L87.0,370.7 L87.5,370.4 L88.0,370.7 L88.5,370.6 L89.0,370.7 L89.5,370.6 L90.0,370.8 L90.5,370.9 L91.0,371.0 L91.5,371.0 L92.0,371.3 L92.3,371.3 L92.5,371.5 L93.0,371.3 L93.5,371.1 L94.0,370.8 L94.5,370.8 L95.0,370.8 L95.5,370.6 L96.0,370.4 L96.5,370.2 L97.0,370.5 L97.5,370.4 L98.0,370.4 L98.5,370.2 L99.0,370.4 L99.5,370.5 L100.0,370.6 L100.4,370.5 L100.5,370.5 L101.0,370.3 L101.5,370.3 L102.0,370.2 L102.5,370.3 L103.0,370.2 L103.5,370.1 L104.0,369.8 L104.5,369.4 L105.0,369.3 L105.5,369.4 L106.0,369.3 L106.5,368.8 L107.0,368.3 L107.5,368.2 L107.9,368.0 L108.0,368.0 L108.5,367.8 L109.0,367.7 L109.5,367.7 L110.0,367.6 L110.5,367.6 L110.6,367.5 L111.0,367.5 L111.5,367.2 L112.0,366.8 L112.5,366.3 L113.0,366.2 L113.5,365.9 L114.0,365.5 L114.5,365.0 L114.6,365.0 L115.0,364.9 L115.5,364.8 L116.0,364.6 L116.5,364.2 L117.0,363.6 L117.5,363.0 L118.0,362.8 L118.5,362.5 L119.0,362.6 L119.5,362.3 L120.0,361.7 L120.5,360.9 L121.0,360.5 L121.5,360.2 L122.0,359.8 L122.5,359.3 L123.0,359.1 L123.5,358.8 L124.0,358.3 L124.5,357.9 L125.0,357.5 L125.1,357.5 L125.5,356.9 L126.0,356.5 L126.5,356.3 L127.0,355.9 L127.5,355.6 L128.0,355.3 L128.5,355.1 L129.0,354.7 L129.5,354.2 L130.0,354.0 L130.5,353.8 L131.0,353.6 L131.5,352.9 L132.0,352.3 L132.5,352.1 L133.0,352.1 L133.5,352.0 L134.0,351.7 L134.5,351.0 L135.0,350.7 L135.3,350.3 L135.5,350.3 L136.0,349.8 L136.5,349.6 L137.0,349.3 L137.5,349.0 L138.0,348.4 L138.5,348.0 L139.0,347.7 L139.5,347.3 L140.0,347.0 L140.5,346.7 L141.0,346.6 L141.5,346.5 L142.0,346.1 L142.5,345.8 L143.0,345.2 L143.5,344.8 L144.0,344.5 L144.5,344.2 L145.0,343.9 L145.4,343.7 L145.5,343.8 L146.0,343.7 L146.5,343.5 L147.0,343.1 L147.5,342.8 L148.0,342.6 L148.5,342.2 L149.0,342.1 L149.5,341.5 L150.0,341.2 L150.5,340.6 L151.0,340.4 L151.5,340.2 L152.0,340.3 L152.5,340.0 L153.0,339.6 L153.5,339.2 L154.0,338.9 L154.5,338.5 L155.0,338.3 L155.5,337.9 L155.6,338.0 L156.0,337.8 L156.5,337.7 L157.0,337.3 L157.5,336.9 L158.0,336.9 L158.5,336.6 L159.0,336.7 L159.5,336.3 L160.0,336.2 L160.5,335.7 L161.0,335.5 L161.5,335.5 L162.0,335.3 L162.2,335.1 L162.5,334.8 L163.0,334.8 L163.5,334.8 L164.0,334.5 L164.5,334.3 L165.0,333.7 L165.5,333.9 L166.0,333.6 L166.5,333.4 L167.0,333.1 L167.5,333.0 L168.0,333.4 L168.5,333.3 L169.0,333.2 L169.5,332.9 L170.0,333.0 L170.1,332.9 L170.5,332.9 L171.0,332.5 L171.5,332.3 L172.0,331.9 L172.4,331.7 L172.5,331.5 L173.0,331.4 L173.5,330.8 L174.0,330.7 L174.5,330.2 L175.0,330.0 L175.2,329.6 L175.5,329.2 L176.0,328.7 L176.5,328.6 L176.7,328.6 L177.0,328.7 L177.5,329.0 L178.0,329.5 L178.3,329.3 L178.5,329.4 L179.0,329.2 L179.5,329.2 L180.0,329.0 L180.5,328.9 L181.0,328.5 L181.5,328.2 L182.0,327.8 L182.5,328.0 L183.0,328.2 L183.5,328.1 L184.0,327.8 L184.5,327.3 L185.0,327.3 L185.5,327.2 L186.0,327.2 L186.5,326.8 L187.0,326.8 L187.5,326.4 L188.0,326.3 L188.4,326.2 L188.5,326.3 L189.0,326.0 L189.5,325.6 L189.9,325.4 L190.0,326.8 L190.5,348.2 L190.6,349.4 L191.0,349.4 L191.2,349.4 L191.5,348.3 L192.0,339.7 L192.5,340.3 L193.0,340.9 L193.5,341.4 L194.0,341.8 L194.5,342.5 L195.0,342.7 L195.5,343.2 L196.0,343.4 L196.5,344.1 L197.0,344.3 L197.5,344.5 L198.0,344.9 L198.5,345.4 L199.0,346.1 L199.5,346.3 L200.0,347.0 L200.5,347.3 L200.6,347.5 L201.0,347.6 L201.5,347.8 L202.0,348.1 L202.5,348.4 L203.0,348.9 L203.5,349.3 L204.0,349.5 L204.5,349.8 L205.0,350.0 L205.5,350.5 L206.0,351.0 L206.5,351.5 L207.0,351.7 L207.5,351.6 L208.0,351.6 L208.5,351.7 L209.0,352.2 L209.5,352.6 L210.0,353.0 L210.5,353.1 L211.0,353.4 L211.5,353.8 L212.0,354.0 L212.5,354.2 L213.0,354.1 L213.5,354.5 L214.0,354.7 L214.5,354.8 L215.0,354.8 L215.1,354.7 L215.5,355.1 L216.0,355.7 L216.5,356.0 L217.0,356.2 L217.5,356.1 L218.0,356.3 L218.5,356.3 L219.0,356.4 L219.5,356.6 L220.0,357.0 L220.5,357.0 L221.0,357.3 L221.5,357.2 L222.0,357.5 L222.5,357.6 L223.0,357.8 L223.5,358.1 L224.0,358.2 L224.5,358.3 L225.0,358.2 L225.3,358.4 L225.5,358.7 L226.0,359.1 L226.5,359.2 L227.0,358.9 L227.5,358.9 L228.0,358.8 L228.5,359.0 L229.0,359.2 L229.5,359.3 L230.0,359.5 L230.5,359.3 L231.0,359.4 L231.5,359.6 L232.0,359.8 L232.5,359.8 L233.0,360.1 L233.5,360.2 L234.0,360.2 L234.5,360.0 L235.0,360.4 L235.4,360.8 L235.5,361.0 L236.0,360.8 L236.5,360.6 L237.0,360.8 L237.5,360.8 L238.0,361.1 L238.5,361.3 L239.0,361.5 L239.5,361.4 L240.0,361.4 L240.5,361.7 L241.0,361.6 L241.5,361.7 L242.0,361.5 L242.5,361.6 L243.0,361.6 L243.5,361.7 L244.0,361.7 L244.5,361.6 L245.0,361.6 L245.5,361.9 L245.6,362.3 L246.0,362.6 L246.5,362.6 L247.0,362.4 L247.5,362.4 L248.0,362.3 L248.5,362.3 L249.0,362.3 L249.5,362.3 L250.0,362.4 L250.5,362.5 L251.0,362.6 L251.5,362.6 L252.0,362.9 L252.5,362.9 L253.0,363.0 L253.5,362.9 L254.0,363.0 L254.5,363.0 L255.0,363.0 L255.5,363.1 L256.0,363.3 L256.5,363.6 L257.0,363.3 L257.5,363.3 L258.0,363.1 L258.5,363.4 L259.0,363.4 L259.5,363.5 L260.0,363.6 L260.5,363.7 L261.0,363.7 L261.5,363.8 L262.0,363.9 L262.5,364.0 L263.0,364.0 L263.5,363.9 L264.0,364.1 L264.5,364.0 L265.0,364.1 L265.5,363.9 L266.0,363.9 L266.5,364.1 L267.0,364.2 L267.5,364.3 L268.0,364.3 L268.5,363.8 L269.0,363.9 L269.5,363.8 L270.0,364.3 L270.3,364.4 L270.5,364.7 L271.0,364.7 L271.5,364.5 L272.0,364.5 L272.5,364.6 L273.0,364.5 L273.5,364.5 L274.0,364.7 L274.5,364.8 L275.0,365.1 L275.5,365.0 L276.0,365.0 L276.5,364.9 L277.0,365.0 L277.5,365.2 L278.0,365.2 L278.5,365.1 L279.0,365.0 L279.5,365.2 L280.0,365.3 L280.5,365.4 L281.0,365.4 L281.5,365.6 L282.0,365.7 L282.5,365.5 L283.0,365.7 L283.5,365.7 L284.0,365.9 L284.5,365.6 L285.0,365.4 L285.5,365.3 L286.0,365.4 L286.5,365.6 L287.0,365.8 L287.5,365.6 L288.0,365.4 L288.5,365.5 L289.0,365.5 L289.5,365.8 L290.0,366.0 L290.5,366.5 L290.6,366.5 L291.0,366.3 L291.5,365.9 L292.0,365.5 L292.5,365.5 L293.0,365.6 L293.5,366.2 L294.0,366.3 L294.5,366.5 L295.0,366.4 L295.5,366.4 L295.6,366.5"/>
</g>
<g stroke="#000" stroke-width="1.9" fill="#000">
<path d="M88.6,442V428"/><path stroke="none" d="M84.0,430.6L88.6,420L93.19999999999999,430.6Z"/>
<path d="M110.5,442V428"/><path stroke="none" d="M105.9,430.6L110.5,420L115.1,430.6Z"/>
<path d="M192.8,442V428"/><path stroke="none" d="M188.20000000000002,430.6L192.8,420L197.4,430.6Z"/>
</g>
<g stroke="#000" stroke-width="2.1" fill="none">
<path d="M606.1,268V422.4"/>
<path d="M599.5,417H792.9"/>
<path d="M599.5,281.2H606.1 M599.5,315.2H606.1 M599.5,349.1H606.1 M599.5,383.1H606.1"/>
<path d="M652.3,417V422.4 M698.8,417V422.4 M745.4,417V422.4 M792,417V422.4"/>
</g>
<g font-size="14.5">
<g text-anchor="end">
<text x="599.5" y="286.0" font-size="14.6">0.000030</text>
<text x="599.5" y="320.0" font-size="14.6">0.000025</text>
<text x="599.5" y="353.9" font-size="14.6">0.000020</text>
<text x="599.5" y="387.9" font-size="14.6">0.000015</text>
<text x="599.5" y="421.8" font-size="14.6">0.000010</text>
</g>
<g text-anchor="middle">
<text x="606.4" y="436.8">0</text>
<text x="652.3" y="436.8">2</text>
<text x="698.8" y="436.8">4</text>
<text x="745.4" y="436.8">6</text>
<text x="792" y="436.8">8</text>
<text x="706" y="457.2" font-size="13.4">RAS (µM)</text>
<text transform="translate(510.3,338.2) rotate(-90)" font-size="14.1">Nucleotide Exchange</text>
<text transform="translate(524.7,338.2) rotate(-90)">Rate (ΔRFU/msec)</text>
</g></g>
<g stroke="#000" stroke-width="1.7" fill="#000">
<path d="M780.5,271.6V278.4 M776.5,271.6H784.5 M776.5,278.4H784.5"/>
<circle cx="780.5" cy="275" r="2.7" stroke="none"/>
<path d="M693.2,281.7V294.5 M689.2,281.7H697.2 M689.2,294.5H697.2"/>
<circle cx="693.2" cy="288.1" r="2.7" stroke="none"/>
<path d="M649.5,322.4V331.9 M645.5,322.4H653.5 M645.5,331.9H653.5"/>
<circle cx="649.5" cy="327.1" r="2.7" stroke="none"/>
<circle cx="627.7" cy="358.7" r="2.7" stroke="none"/>
<path d="M616.8,376.9V384.7 M612.8,376.9H620.8 M612.8,384.7H620.8"/>
<circle cx="616.8" cy="380.8" r="2.7" stroke="none"/>
<path d="M611.9,390.9V397.9 M607.9,390.9H615.9 M607.9,397.9H615.9"/>
<circle cx="611.9" cy="394.4" r="2.7" stroke="none"/>
<path d="M608.4,399.5V405.5 M604.4,399.5H612.4 M604.4,405.5H612.4"/>
<circle cx="608.4" cy="402.5" r="2.7" stroke="none"/>
<path d="M606.6,389.2V397.2 M602.6,389.2H610.6 M602.6,397.2H610.6"/>
<circle cx="606.6" cy="393.2" r="2.7" stroke="none"/>
<path d="M606.5,401.9V407.1 M602.5,401.9H610.5 M602.5,407.1H610.5"/>
<circle cx="606.5" cy="404.5" r="2.7" stroke="none"/>
</g>
</g>
</svg>
</body></html>
